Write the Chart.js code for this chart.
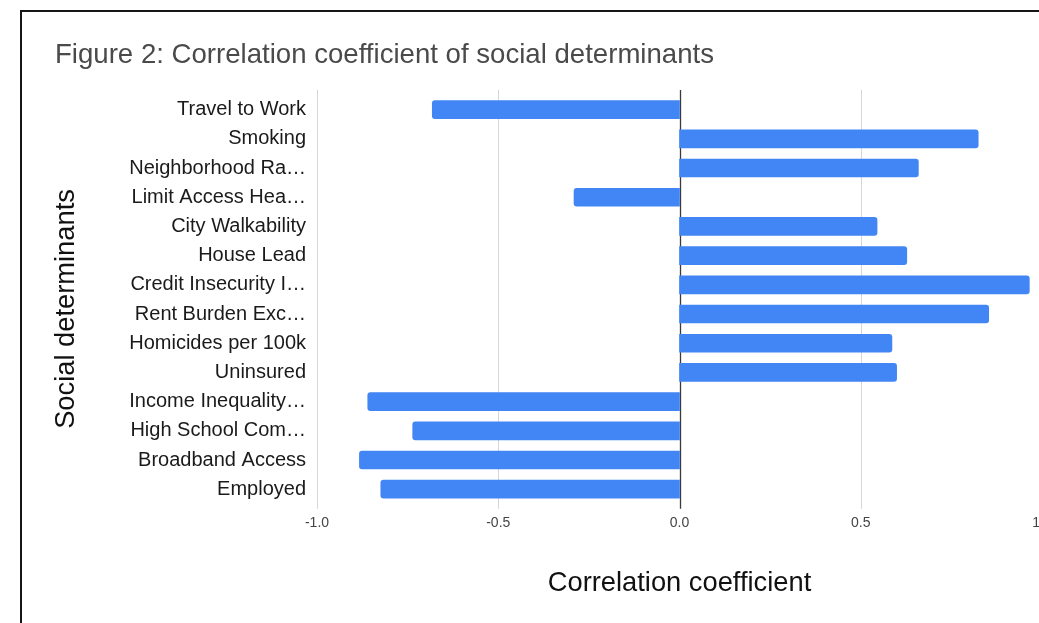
<!DOCTYPE html>
<html>
<head>
<meta charset="utf-8">
<script src="https://cdn.jsdelivr.net/npm/chart.js@4.4.1/dist/chart.umd.min.js"></script>
<style>
  html, body { margin: 0; padding: 0; background: #fff; overflow: hidden; width: 1039px; height: 623px; }
  #frame { position: absolute; left: 20px; top: 10px; width: 1100px; height: 700px;
           border-left: 2px solid #151515; border-top: 2px solid #151515; box-sizing: border-box; }
  #chart { position: absolute; left: 0; top: 0; }
</style>
</head>
<body>
<div id="frame"></div>
<canvas id="chart" width="1100" height="623"></canvas>
<script>
// Social determinants and their correlation coefficients
const categories = [
  'Travel to Work',
  'Smoking',
  'Neighborhood Ra\u2026',
  'Limit Access Hea\u2026',
  'City Walkability',
  'House Lead',
  'Credit Insecurity I\u2026',
  'Rent Burden Exc\u2026',
  'Homicides per 100k',
  'Uninsured',
  'Income Inequality\u2026',
  'High School Com\u2026',
  'Broadband Access',
  'Employed'
];
const correlations = [-0.682, 0.824, 0.659, -0.291, 0.545, 0.627, 0.965, 0.853, 0.586, 0.599, -0.860, -0.736, -0.883, -0.824];
const xTickLabels = ['-1.0', '-0.5', '0.0', '0.5', '1'];

const chartTitle = 'Figure 2: Correlation coefficient of social determinants';
const xAxisTitle = 'Correlation coefficient';
const yAxisTitle = 'Social determinants';

const FONT = '"Liberation Sans", Arial, Helvetica, sans-serif';

// Vertical grid lines that reach a little past the plot area, with a darker zero line
const gridPlugin = {
  id: 'vGrid',
  beforeDatasetsDraw(chart) {
    const { ctx, chartArea, scales } = chart;
    const x = scales.x;
    ctx.save();
    x.ticks.forEach(t => {
      const px = Math.round(x.getPixelForValue(t.value)) + 0.5;
      ctx.beginPath();
      ctx.strokeStyle = t.value === 0 ? '#3a3a3a' : '#d6d6d6';
      ctx.lineWidth = t.value === 0 ? 1.3 : 1;
      ctx.moveTo(px, chartArea.top - 5);
      ctx.lineTo(px, chartArea.bottom + 5);
      ctx.stroke();
    });
    ctx.restore();
  }
};

// Rotated title for the category axis
const yTitlePlugin = {
  id: 'yTitle',
  afterDraw(chart) {
    const { ctx } = chart;
    ctx.save();
    ctx.translate(66, 309);
    ctx.rotate(-Math.PI / 2);
    ctx.font = '27.3px ' + FONT;
    ctx.fillStyle = '#111';
    ctx.textAlign = 'center';
    ctx.textBaseline = 'middle';
    ctx.fillText(yAxisTitle, 0, 0);
    ctx.restore();
  }
};

Chart.defaults.devicePixelRatio = 1;

new Chart(document.getElementById('chart'), {
  type: 'bar',
  data: {
    labels: categories,
    datasets: [{
      data: correlations,
      backgroundColor: '#4285F4',
      borderRadius: 3,
      barThickness: 18
    }]
  },
  options: {
    indexAxis: 'y',
    responsive: false,
    animation: false,
    layout: { padding: { left: 55, right: 58, top: 0, bottom: 22.8 } },
    plugins: {
      legend: { display: false },
      tooltip: { enabled: false },
      title: {
        display: true,
        text: chartTitle,
        align: 'start',
        color: '#4a4a4a',
        font: { family: FONT, size: 27.6, weight: 'normal', lineHeight: 1.2 },
        padding: { top: 39, bottom: 22.9 }
      }
    },
    scales: {
      x: {
        type: 'linear',
        min: -1,
        max: 1,
        grid: { display: false, drawTicks: false },
        border: { display: false },
        ticks: {
          stepSize: 0.5,
          padding: 11,
          color: '#444',
          font: { family: FONT, size: 14, lineHeight: 1.2 },
          // the last label sits just inside the right edge of the page
          callback: (v, i) => i === xTickLabels.length - 1 ? xTickLabels[i] + '\u00a0\u00a0\u00a0' : xTickLabels[i]
        },
        title: {
          display: true,
          text: xAxisTitle,
          color: '#111',
          font: { family: FONT, size: 27.3, lineHeight: 1.2 },
          padding: { top: 0, bottom: 0 }
        },
        afterFit(scale) { scale.height = 96.4; }
      },
      y: {
        grid: { display: false, drawTicks: false },
        border: { display: false },
        ticks: {
          padding: 11,
          color: '#1a1a1a',
          font: { family: FONT, size: 20, lineHeight: 1.2 },
          autoSkip: false
        },
        afterFit(scale) { scale.width = 262; }
      }
    }
  },
  plugins: [gridPlugin, yTitlePlugin]
});
</script>
</body>
</html>
